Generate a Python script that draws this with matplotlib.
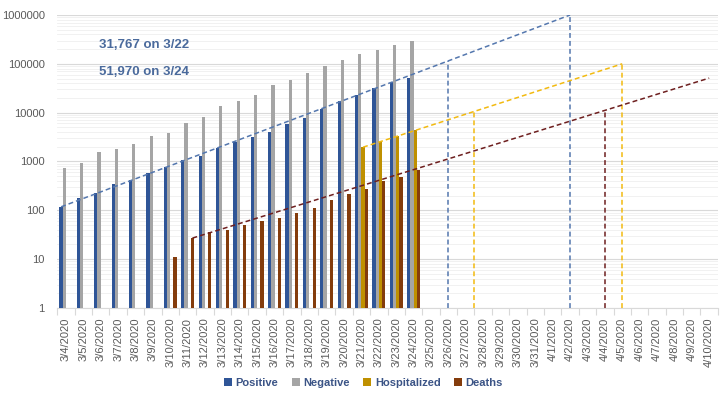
import matplotlib as mpl
import matplotlib.pyplot as plt
import matplotlib.ticker as ticker
import numpy as np

mpl.rcParams['font.family'] = ['Liberation Sans', 'DejaVu Sans']

# ---------------------------------------------------------------------------- #

dates = ['3/4/2020', '3/5/2020', '3/6/2020', '3/7/2020', '3/8/2020', '3/9/2020',
         '3/10/2020', '3/11/2020', '3/12/2020', '3/13/2020', '3/14/2020',
         '3/15/2020', '3/16/2020', '3/17/2020', '3/18/2020', '3/19/2020',
         '3/20/2020', '3/21/2020', '3/22/2020', '3/23/2020', '3/24/2020',
         '3/25/2020', '3/26/2020', '3/27/2020', '3/28/2020', '3/29/2020',
         '3/30/2020', '3/31/2020', '4/1/2020', '4/2/2020', '4/3/2020',
         '4/4/2020', '4/5/2020', '4/6/2020', '4/7/2020', '4/8/2020',
         '4/9/2020', '4/10/2020']

# data rows from 3/4 to 3/24 (None = no bar)
positive = [118, 176, 223, 341, 417, 584, 778, 1053, 1315, 1922, 2450, 3173,
            4019, 5722, 7730, 11719, 17033, 23197, 31767, 42164, 51970]
negative = [748, 953, 1571, 1809, 2335, 3367, 3807, 6070, 8041, 13613, 17102,
            22551, 36104, 47604, 66225, 89119, 118147, 155909, 193463, 237321,
            292778]
hospitalized = [None] * 17 + [1964, 2554, 3325, 4468]
deaths = [None] * 6 + [11, 27, 36, 39, 49, 60, 71, 90, 112, 160, 219, 272,
                       398, 471, 675]

# projection lines: (start date, end date, end value) and drop lines (date, shift)
pos_proj = ('3/4/2020', '4/2/2020', 1000000)
pos_drops = [('3/26/2020', 0.0), ('4/2/2020', 0.0)]
hosp_proj = ('3/21/2020', '4/5/2020', 100000)
hosp_drops = [('3/27/2020', 0.5), ('4/5/2020', 0.0)]
death_proj = ('3/11/2020', '4/10/2020', 51000)
death_drops = [('4/4/2020', 0.0)]

notes = ['31,767 on 3/22', '51,970 on 3/24']

# ---------------------------------------------------------------------------- #

c_pos = '#2F5597'
c_neg = '#A5A5A5'
c_hosp = '#BF9000'
c_death = '#843C0C'
c_pos_line = '#5477AE'
c_hosp_line = '#F2BA10'
c_death_line = '#6E1F1F'
c_text = '#4A6A9C'
c_legend = '#3B5486'

width = 0.185
offsets = [-1.5 * width, -0.5 * width, 0.5 * width, 1.5 * width]
dash = (0, (3.2, 2.0))

fig = plt.figure(figsize=(7.2, 4.05), dpi=100)
ax = fig.add_axes([0.0795, 0.2395, 0.9175, 0.7235])

series = [(positive, c_pos, 'Positive'), (negative, c_neg, 'Negative'),
          (hospitalized, c_hosp, 'Hospitalized'), (deaths, c_death, 'Deaths')]
handles = []
for (vals, col, lab), off in zip(series, offsets):
    idx = [i for i, v in enumerate(vals) if v is not None]
    h = ax.bar(np.array(idx) + off, [vals[i] for i in idx], width=width,
               color=col, label=lab, zorder=3)
    handles.append(h)


def draw_proj(proj, drops, vals, off, col):
    d0, d1, v1 = proj
    x0 = dates.index(d0) + off
    y0 = vals[dates.index(d0)]
    x1 = dates.index(d1)
    ax.plot([x0, x1], [y0, v1], color=col, lw=1.1, ls=dash, zorder=4)
    for d, shift in drops:
        xd = dates.index(d) + shift
        yd = 10 ** (np.log10(y0) + (np.log10(v1) - np.log10(y0)) * (xd - x0) / (x1 - x0))
        ax.plot([xd, xd], [1, yd], color=col, lw=1.1, ls=dash, zorder=4)


draw_proj(pos_proj, pos_drops, positive, offsets[0], c_pos_line)
draw_proj(hosp_proj, hosp_drops, hospitalized, offsets[2], c_hosp_line)
draw_proj(death_proj, death_drops, deaths, offsets[3], c_death_line)

ax.set_yscale('log')
ax.set_ylim(1, 1000000)
ax.set_xlim(-0.5, len(dates) - 0.5)
ax.yaxis.set_major_locator(ticker.LogLocator(base=10, numticks=10))
ax.yaxis.set_minor_locator(ticker.LogLocator(base=10, subs=np.arange(2, 10), numticks=20))
ax.yaxis.set_major_formatter(ticker.FuncFormatter(lambda v, p: '%d' % round(v)))
ax.yaxis.set_minor_formatter(ticker.NullFormatter())
ax.grid(which='major', axis='y', color='#D9D9D9', lw=0.8, zorder=0)
ax.grid(which='minor', axis='y', color='#EFEFEF', lw=0.6, zorder=0)

ax.set_xticks(range(len(dates)))
ax.set_xticklabels(dates, rotation=90, fontsize=8, color='#595959')
ax.set_xticks(np.arange(-0.5, len(dates)), minor=True)
ax.tick_params(axis='x', which='major', length=0, pad=7)
ax.tick_params(axis='x', which='minor', length=5, color='#D9D9D9', width=0.8)
ax.tick_params(axis='y', which='both', length=0, labelsize=8, labelcolor='#595959', pad=9)

for s in ['top', 'right', 'left']:
    ax.spines[s].set_visible(False)
ax.spines['bottom'].set_color('#D9D9D9')
ax.spines['bottom'].set_linewidth(0.8)

for k, t in enumerate(notes):
    fig.text(0.2, 0.889 - k * 0.068, t, ha='center', va='center', fontsize=9.5,
             fontweight='bold', color=c_text)

leg = fig.legend(handles=handles, loc='center', bbox_to_anchor=(0.505, 0.054), ncol=4,
                 frameon=False, fontsize=8, handlelength=0.7, handleheight=0.7,
                 handletextpad=0.35, columnspacing=1.2)
for t in leg.get_texts():
    t.set_color(c_legend)
    t.set_fontweight('bold')

plt.savefig('out.png', dpi=100)
